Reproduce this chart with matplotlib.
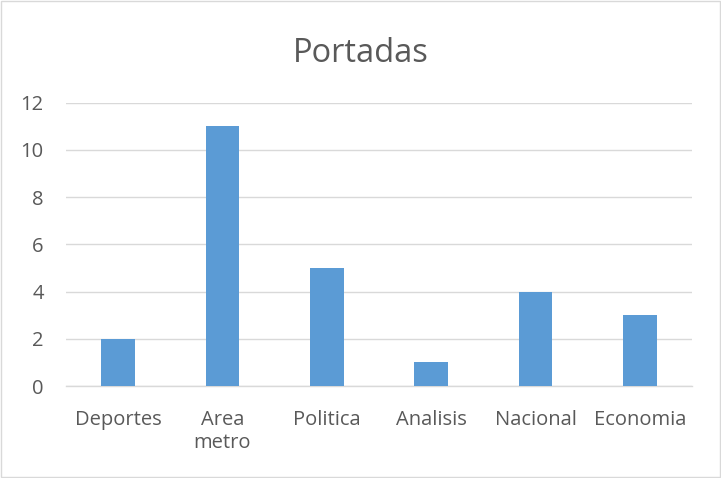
import numpy as np
import matplotlib.pyplot as plt

categorias = ["Deportes", "Area\nmetro", "Politica", "Analisis", "Nacional", "Economia"]
valores = [2, 11, 5, 1, 4, 3]
yticks = [0, 2, 4, 6, 8, 10, 12]

plt.rcParams['font.family'] = ['Open Sans', 'DejaVu Sans']

fig = plt.figure(figsize=(7.21, 4.78), dpi=100)
ax = fig.add_axes([66/721, 1 - 386/478, (692-66)/721, (386-102.7)/478])

x = np.arange(len(categorias))
ax.bar(x, valores, width=0.32, color='#5B9BD5', zorder=3)

ax.set_xlim(-0.5, len(categorias) - 0.5)
ax.set_ylim(0, 12)
ax.set_yticks(yticks)
ax.set_xticks(x)
ax.set_xticklabels(categorias, linespacing=1.2)
ax.yaxis.grid(True, color='#d9d9d9', linewidth=1.0, zorder=0)
for s in ['top', 'right', 'left']:
    ax.spines[s].set_visible(False)
ax.spines['bottom'].set_color('#d9d9d9')
ax.spines['bottom'].set_linewidth(1.0)
ax.tick_params(axis='both', length=0, colors='#595959', labelsize=14.5)
ax.tick_params(axis='x', pad=17)
ax.tick_params(axis='y', pad=16)

fig.text(0.5, 1 - 53/478, "Portadas", ha='center', va='center',
         fontsize=23.5, color='#595959')

# borde del grafico
fig.patches.append(plt.Rectangle((0.002, 0.002), 0.996, 0.996, transform=fig.transFigure,
                                 fill=False, edgecolor='#d9d9d9', linewidth=1.0))

fig.savefig("out.png", dpi=100)
